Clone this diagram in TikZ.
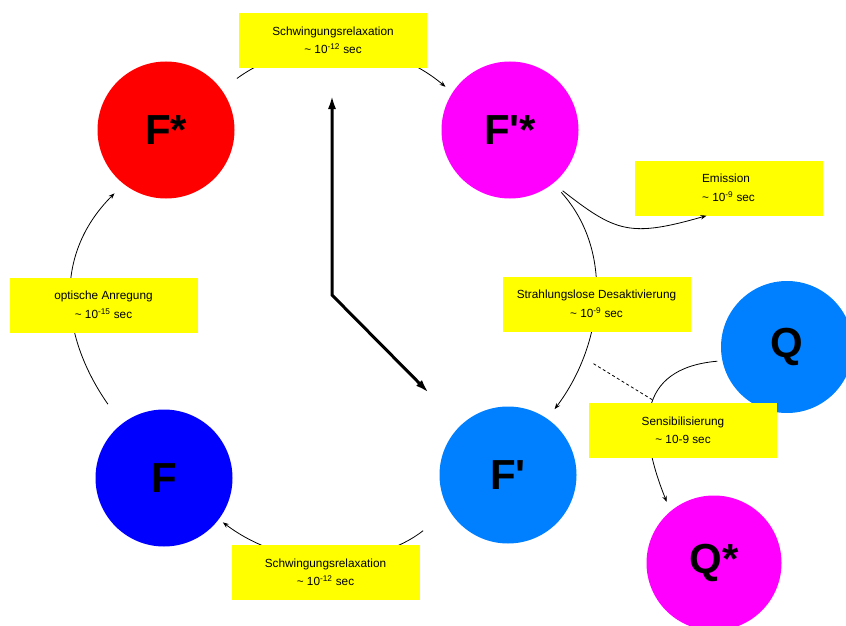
\documentclass[tikz,border=0pt]{standalone}
\usepackage{fontspec}
\setmainfont{Liberation Sans}
\usetikzlibrary{arrows.meta}
\definecolor{fred}{HTML}{FF0000}
\definecolor{fmagenta}{HTML}{FF00FF}
\definecolor{fblue}{HTML}{0000FF}
\definecolor{fsky}{HTML}{0080FF}
\definecolor{noteyellow}{HTML}{FFFF00}

\begin{document}
\begin{tikzpicture}[x=1pt, y=1pt,
  state/.style={circle, fill=#1, minimum size=137pt, inner sep=0pt, font=\fontsize{42}{42}\selectfont\bfseries},
  note/.style={fill=noteyellow, minimum width=188pt, minimum height=55pt, inner sep=0pt, align=center, font=\fontsize{11.8}{18.5}\selectfont},
  arr/.style={-{Stealth[length=6pt,width=4.5pt]}, line width=0.8pt},
  hand/.style={{Latex[length=14pt,width=8pt]}-{Latex[length=14pt,width=8pt]}, line width=3pt, line join=miter}
]
\useasboundingbox (0,0) rectangle (846,-626);

\node[state=fred] (Fs) at (166,-130) {F*};
\node[state=fmagenta] (Fps) at (510,-130) {F\textquotesingle*};
\node[state=fblue] (F) at (164,-478) {F};
\node[state=fsky] (Fp) at (508,-475) {F\textquotesingle};
\node[state=fsky, minimum size=132pt] (Q) at (787,-347) {Q};
\node[state=fmagenta, minimum size=135pt] (Qs) at (714,-563) {Q*};

\draw[arr, shorten <=19pt, shorten >=9pt] (Fs.36) to[out=36, in=140] (Fps.147);
\draw[arr, shorten <=12pt, shorten >=12pt] (Fps.-51) to[out=-48, in=53] (Fp.55);
\draw[arr, shorten <=33pt, shorten >=5pt] (Fp.211) to[out=218, in=-37] (F.-37);
\draw[arr, shorten <=24pt, shorten >=13pt] (F.128) to[out=125, in=-135, looseness=1.1] (Fs.-128);
\draw[arr, shorten <=5pt, shorten >=10pt] (Q.192) to[out=185, in=112, looseness=1.4] (Qs.130);

\coordinate (hub) at (332,-295);
\coordinate (noon) at (332,-95);
\coordinate (four) at (429,-393);
\draw[hand] (noon) -- (hub) -- (four);

\node[note] (vib1) at (333,-40.5) {Schwingungsrelaxation\\\textasciitilde{} 10\textsuperscript{-12} sec};
\node[note, align=left] (emis) at (728.5,-188) {Emission\\\textasciitilde{} 10\textsuperscript{-9} sec};
\node[note] (ic) at (596.5,-304) {Strahlungslose Desaktivierung\\\textasciitilde{} 10\textsuperscript{-9} sec};
\node[note] (sens) at (683,-430.5) {Sensibilisierung\\\textasciitilde{} 10-9 sec};
\node[note] (exc) at (103.5,-305) {optische Anregung\\\textasciitilde{} 10\textsuperscript{-15} sec};
\node[note] (vib2) at (325.5,-572.5) {Schwingungsrelaxation\\\textasciitilde{} 10\textsuperscript{-12} sec};

\draw[arr, shorten <=12pt] (Fps.-51) to[out=-38, in=196, looseness=1.3] ([xshift=-22pt]emis.south);
\draw[dash pattern=on 3pt off 2.5pt, line width=0.8pt] ([xshift=-3pt,yshift=-32pt]ic.south) -- ([xshift=-29pt,yshift=2pt]sens.north);
\end{tikzpicture}
\end{document}
